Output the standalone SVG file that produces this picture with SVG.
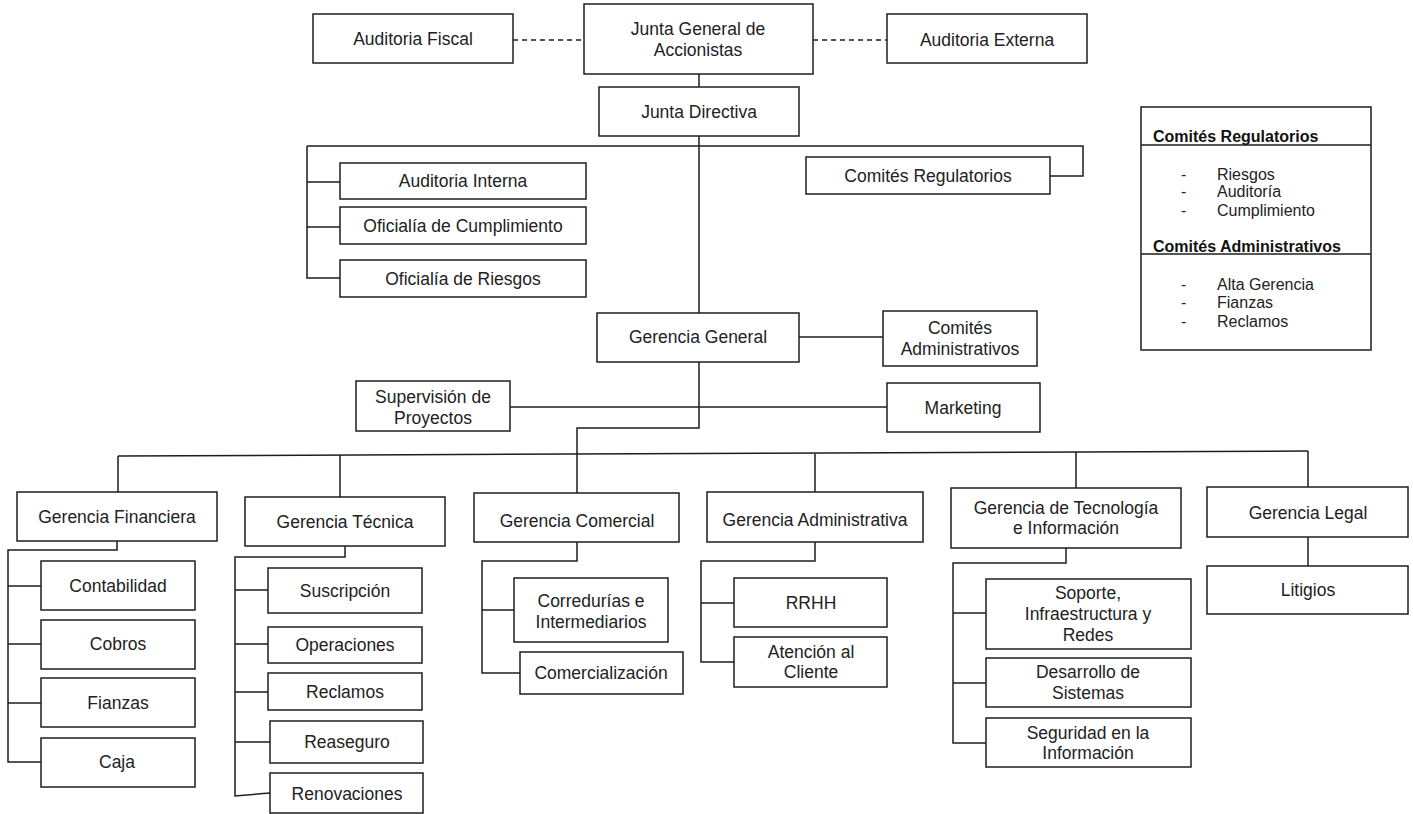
<svg xmlns="http://www.w3.org/2000/svg" width="1413" height="814" viewBox="0 0 1413 814">
<style>
.b{fill:#fff;stroke:#1e1e1e;stroke-width:1.5}
.t{font-family:"Liberation Sans",Arial,sans-serif;font-size:17.5px;fill:#222;text-anchor:middle;dominant-baseline:central}
.c{fill:none;stroke:#1e1e1e;stroke-width:1.5}
.d{fill:none;stroke:#1e1e1e;stroke-width:1.3;stroke-dasharray:5 4}
.lh{font-family:"Liberation Sans",Arial,sans-serif;font-size:16px;font-weight:bold;fill:#111}
.li{font-family:"Liberation Sans",Arial,sans-serif;font-size:16px;fill:#222}
</style>
<rect width="1413" height="814" fill="#fff"/>
<g id="connectors">
<path class="d" d="M513,40 H584 M813,40 H887"/>
<path class="c" d="M699,74 V87 M699,136 V313"/>
<path class="c" d="M307,146 H1083 V176 H1050"/>
<path class="c" d="M307,146 V278 H340 M307,182 H340 M307,227 H340"/>
<path class="c" d="M799,337 H883 M510,407 H887"/>
<path class="c" d="M699,362 V428 H577 V455"/>
<path class="c" d="M118,456 L1308,451"/>
<path class="c" d="M118,456 V492 M340,455 V497 M577,455 V493 M815,454 V492 M1076,452 V488 M1308,451 V487"/>
<path class="c" d="M117,541 V550 H8 V762 H41 M8,586 H41 M8,644 H41 M8,703 H41"/>
<path class="c" d="M345,546 V557 H235 V796 L270,793 M235,590 H268 M235,644 H268 M235,692 H268 M235,742 H270"/>
<path class="c" d="M577,542 V561 H482 V673 H520 M482,610 H514"/>
<path class="c" d="M815,542 V561 H701 V662 H734 M701,603 H734"/>
<path class="c" d="M1066,548 V563 H953 V743 H986 M953,613 H986 M953,683 H986"/>
<path class="c" d="M1308,537 V566"/>
</g>
<g id="auditoria-fiscal"><rect class="b" x="313" y="14" width="200" height="49"/><text class="t" x="413" y="39">Auditoria Fiscal</text></g>
<g id="junta-general"><rect class="b" x="584" y="4" width="229" height="70"/><text class="t" x="698" y="29">Junta General de</text><text class="t" x="698" y="50">Accionistas</text></g>
<g id="auditoria-externa"><rect class="b" x="887" y="14" width="200" height="49"/><text class="t" x="987" y="40">Auditoria Externa</text></g>
<g id="junta-directiva"><rect class="b" x="599" y="87" width="200" height="49"/><text class="t" x="699" y="112">Junta Directiva</text></g>
<g id="auditoria-interna"><rect class="b" x="340" y="163" width="246" height="36"/><text class="t" x="463" y="181">Auditoria Interna</text></g>
<g id="oficialia-cumplimiento"><rect class="b" x="340" y="207" width="246" height="37"/><text class="t" x="463" y="226">Oficialía de Cumplimiento</text></g>
<g id="oficialia-riesgos"><rect class="b" x="340" y="260" width="246" height="37"/><text class="t" x="463" y="279">Oficialía de Riesgos</text></g>
<g id="comites-regulatorios"><rect class="b" x="806" y="157" width="244" height="37"/><text class="t" x="928" y="176">Comités Regulatorios</text></g>
<g id="gerencia-general"><rect class="b" x="597" y="313" width="202" height="49"/><text class="t" x="698" y="337">Gerencia General</text></g>
<g id="comites-administrativos"><rect class="b" x="883" y="311" width="154" height="55"/><text class="t" x="960" y="328">Comités</text><text class="t" x="960" y="349">Administrativos</text></g>
<g id="supervision-proyectos"><rect class="b" x="356" y="381" width="154" height="50"/><text class="t" x="433" y="397">Supervisión de</text><text class="t" x="433" y="418">Proyectos</text></g>
<g id="marketing"><rect class="b" x="887" y="383" width="153" height="49"/><text class="t" x="963" y="408">Marketing</text></g>
<g id="gerencia-financiera"><rect class="b" x="17" y="492" width="200" height="49"/><text class="t" x="117" y="517">Gerencia Financiera</text></g>
<g id="contabilidad"><rect class="b" x="41" y="561" width="154" height="49"/><text class="t" x="118" y="586">Contabilidad</text></g>
<g id="cobros"><rect class="b" x="41" y="620" width="154" height="49"/><text class="t" x="118" y="644">Cobros</text></g>
<g id="fianzas"><rect class="b" x="41" y="678" width="154" height="49"/><text class="t" x="118" y="703">Fianzas</text></g>
<g id="caja"><rect class="b" x="41" y="738" width="154" height="49"/><text class="t" x="117" y="762">Caja</text></g>
<g id="gerencia-tecnica"><rect class="b" x="245" y="497" width="200" height="49"/><text class="t" x="345" y="522">Gerencia Técnica</text></g>
<g id="suscripcion"><rect class="b" x="268" y="568" width="154" height="45"/><text class="t" x="345" y="591">Suscripción</text></g>
<g id="operaciones"><rect class="b" x="268" y="627" width="154" height="36"/><text class="t" x="345" y="645">Operaciones</text></g>
<g id="reclamos"><rect class="b" x="268" y="673" width="154" height="37"/><text class="t" x="345" y="692">Reclamos</text></g>
<g id="reaseguro"><rect class="b" x="270" y="721" width="153" height="42"/><text class="t" x="347" y="742">Reaseguro</text></g>
<g id="renovaciones"><rect class="b" x="270" y="773" width="153" height="40"/><text class="t" x="347" y="794">Renovaciones</text></g>
<g id="gerencia-comercial"><rect class="b" x="474" y="493" width="205" height="49"/><text class="t" x="577" y="521">Gerencia Comercial</text></g>
<g id="corredurias"><rect class="b" x="514" y="578" width="154" height="64"/><text class="t" x="591" y="601">Corredurías e</text><text class="t" x="591" y="622">Intermediarios</text></g>
<g id="comercializacion"><rect class="b" x="520" y="652" width="163" height="42"/><text class="t" x="601" y="673">Comercialización</text></g>
<g id="gerencia-administrativa"><rect class="b" x="707" y="492" width="216" height="50"/><text class="t" x="815" y="520">Gerencia Administrativa</text></g>
<g id="rrhh"><rect class="b" x="734" y="578" width="153" height="49"/><text class="t" x="811" y="603">RRHH</text></g>
<g id="atencion-cliente"><rect class="b" x="734" y="637" width="153" height="50"/><text class="t" x="811" y="652">Atención al</text><text class="t" x="811" y="672">Cliente</text></g>
<g id="gerencia-tecnologia"><rect class="b" x="951" y="488" width="230" height="60"/><text class="t" x="1066" y="508">Gerencia de Tecnología</text><text class="t" x="1066" y="528">e Información</text></g>
<g id="soporte"><rect class="b" x="986" y="579" width="205" height="70"/><text class="t" x="1088" y="593">Soporte,</text><text class="t" x="1088" y="614">Infraestructura y</text><text class="t" x="1088" y="635">Redes</text></g>
<g id="desarrollo"><rect class="b" x="986" y="658" width="205" height="49"/><text class="t" x="1088" y="672">Desarrollo de</text><text class="t" x="1088" y="693">Sistemas</text></g>
<g id="seguridad"><rect class="b" x="986" y="718" width="205" height="49"/><text class="t" x="1088" y="733">Seguridad en la</text><text class="t" x="1088" y="753">Información</text></g>
<g id="gerencia-legal"><rect class="b" x="1207" y="487" width="201" height="50"/><text class="t" x="1308" y="513">Gerencia Legal</text></g>
<g id="litigios"><rect class="b" x="1207" y="566" width="201" height="48"/><text class="t" x="1308" y="590">Litigios</text></g>
<g id="leyenda">
<rect class="b" x="1141" y="107" width="230" height="243"/>
<text class="lh" x="1153" y="142">Comités Regulatorios</text>
<line class="c" x1="1141" y1="145" x2="1371" y2="145"/>
<text class="li" x="1181" y="180">-</text><text class="li" x="1217" y="180">Riesgos</text>
<text class="li" x="1181" y="197">-</text><text class="li" x="1217" y="197">Auditoría</text>
<text class="li" x="1181" y="216">-</text><text class="li" x="1217" y="216">Cumplimiento</text>
<text class="lh" x="1153" y="252">Comités Administrativos</text>
<line class="c" x1="1141" y1="254" x2="1371" y2="254"/>
<text class="li" x="1181" y="290">-</text><text class="li" x="1217" y="290">Alta Gerencia</text>
<text class="li" x="1181" y="308">-</text><text class="li" x="1217" y="308">Fianzas</text>
<text class="li" x="1181" y="327">-</text><text class="li" x="1217" y="327">Reclamos</text>
</g>
</svg>
